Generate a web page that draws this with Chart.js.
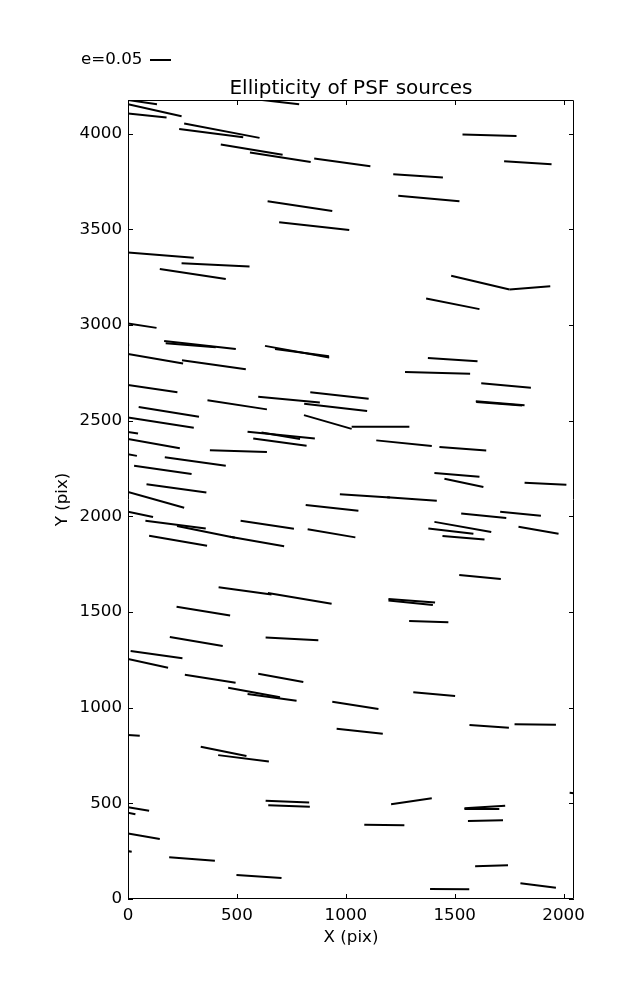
<!DOCTYPE html>
<html>
<head>
<title>Ellipticity of PSF sources</title>
<script src="https://cdn.jsdelivr.net/npm/chart.js"></script>
<style>
  html, body { margin: 0; padding: 0; background: #fff; }
</style>
</head>
<body>
<canvas id="whiskerChart" width="637" height="1000"></canvas>
<script>
    // whisker end points in pixel units of the detector
    var xStart = [0, 0, 0, 258, 235, 426, 560, 641, 694, 0,
                  246, 146, 546, 855, 1218, 1241, 1369, 1536, 1727, 1484,
                  1752, 0, 166, 173, -30, 0, 248, 629, 675, 0,
                  365, 598, 49, 0, -20, 0, 549, 613, 575, 376,
                  -20, 169, 28, 85, 0, 1377, 1272, 837, 809, 808,
                  1027, 1140, 973, 1190, 1430, 1622, 1597, 1599, 1407, 1453,
                  1821, 0, 80, 225, 468, 517, 97, 416, 642, 223,
                  192, 632, 12, 0, 261, 598, 460, 549, 816, 825,
                  1196, 1196, 1291, 1310, 1530, 1709, 1407, 1379, 1444, 1793,
                  1521, 0, 334, 414, 632, 644, 0, -20, 0, -20,
                  189, 498, 938, 958, 1208, 1085, 1568, 1775, 2028, 1545,
                  1545, 1561, 1594, 1387, 1802];
    var yStart = [4176, 4154, 4105, 4053, 4025, 3943, 3902, 3647, 3537, 3379,
                  3323, 3293, 4185, 3870, 3788, 3675, 3139, 3996, 3856, 3257,
                  3186, 3008, 2917, 2905, 2897, 2848, 2816, 2891, 2874, 2686,
                  2607, 2625, 2571, 2517, 2445, 2404, 2442, 2438, 2407, 2346,
                  2328, 2309, 2264, 2168, 2128, 2828, 2755, 2649, 2588, 2529,
                  2468, 2397, 2116, 2100, 2363, 2696, 2602, 2597, 2227, 2196,
                  2175, 2024, 1977, 1949, 1893, 1977, 1898, 1629, 1599, 1527,
                  1369, 1367, 1296, 1254, 1172, 1177, 1104, 1071, 2059, 1932,
                  1568, 1560, 1453, 1080, 2015, 2024, 1971, 1937, 1897, 1945,
                  1694, 857, 796, 752, 514, 490, 479, 456, 343, 254,
                  218, 125, 1031, 890, 495, 388, 909, 913, 555, 474,
                  470, 408, 171, 52, 82];
    var xEnd = [133, 246, 177, 604, 529, 710, 839, 938, 1016, 302,
                558, 449, 786, 1113, 1446, 1522, 1614, 1784, 1945, 1752,
                1939, 131, 495, 403, 5, 253, 541, 924, 923, 227,
                638, 881, 326, 302, 46, 238, 858, 790, 820, 638,
                41, 449, 292, 360, 258, 1605, 1571, 1105, 1098, 1027,
                1292, 1395, 1203, 1418, 1645, 1850, 1821, 1810, 1614, 1632,
                2013, 115, 357, 491, 717, 762, 363, 659, 935, 469,
                435, 874, 250, 184, 494, 805, 698, 774, 1058, 1044,
                1410, 1400, 1471, 1502, 1737, 1896, 1668, 1586, 1637, 1977,
                1712, 54, 544, 647, 832, 835, 97, 34, 146, 17,
                399, 705, 1150, 1170, 1395, 1269, 1749, 1965, 2070, 1732,
                1705, 1722, 1745, 1567, 1965];
    var yEnd = [4154, 4091, 4084, 3978, 3981, 3890, 3852, 3596, 3496, 3351,
                3306, 3241, 4154, 3830, 3771, 3647, 3083, 3988, 3840, 3186,
                3203, 2985, 2875, 2884, 2893, 2799, 2769, 2830, 2837, 2649,
                2559, 2595, 2520, 2463, 2433, 2356, 2407, 2404, 2369, 2336,
                2316, 2264, 2221, 2125, 2045, 2811, 2745, 2614, 2551, 2457,
                2468, 2367, 2099, 2081, 2344, 2672, 2581, 2579, 2207, 2153,
                2165, 1997, 1937, 1888, 1844, 1935, 1846, 1592, 1543, 1482,
                1322, 1353, 1258, 1209, 1130, 1134, 1055, 1036, 2029, 1890,
                1550, 1536, 1447, 1061, 1991, 2003, 1918, 1909, 1879, 1909,
                1672, 853, 747, 719, 505, 482, 461, 443, 314, 247,
                200, 110, 993, 864, 526, 385, 895, 911, 550, 487,
                470, 411, 176, 51, 59];

    var xTicks = [0, 500, 1000, 1500, 2000];
    var yTicks = [0, 500, 1000, 1500, 2000, 2500, 3000, 3500, 4000];
    var xMax = 2048;
    var yMax = 4176;

    var FONT = 'DejaVu Sans';

    var datasets = xStart.map(function (x0, i) {
        return {
            data: [{ x: x0, y: yStart[i] }, { x: xEnd[i], y: yEnd[i] }],
            showLine: true,
            borderColor: '#000',
            borderWidth: 2,
            pointRadius: 0,
            clip: 0
        };
    });

    // axes frame with inward ticks, title and the e=0.05 key
    var framePlugin = {
        id: 'frame',
        afterDraw: function (chart) {
            var ctx = chart.ctx;
            var a = chart.chartArea;
            var xs = chart.scales.x, ys = chart.scales.y;
            ctx.save();
            ctx.strokeStyle = '#000';
            ctx.lineWidth = 1;
            ctx.beginPath();
            ctx.rect(a.left + 0.5, a.top + 0.5, a.right - a.left - 1, a.bottom - a.top - 1);
            xTicks.forEach(function (v) {
                var px = Math.round(xs.getPixelForValue(v)) + 0.5;
                ctx.moveTo(px, a.bottom); ctx.lineTo(px, a.bottom - 5);
                ctx.moveTo(px, a.top); ctx.lineTo(px, a.top + 5);
            });
            yTicks.forEach(function (v) {
                var py = Math.round(ys.getPixelForValue(v)) + 0.5;
                ctx.moveTo(a.left, py); ctx.lineTo(a.left + 5, py);
                ctx.moveTo(a.right, py); ctx.lineTo(a.right - 5, py);
            });
            ctx.stroke();

            ctx.fillStyle = '#000';
            ctx.font = '20px "' + FONT + '"';
            ctx.textAlign = 'center';
            ctx.textBaseline = 'alphabetic';
            ctx.fillText('Ellipticity of PSF sources', (a.left + a.right) / 2, 94);

            ctx.font = '16.7px "' + FONT + '"';
            ctx.textAlign = 'left';
            ctx.textBaseline = 'middle';
            ctx.fillText('e=0.05', 81, 60);
            ctx.lineWidth = 2;
            ctx.beginPath();
            ctx.moveTo(150, 60);
            ctx.lineTo(171, 60);
            ctx.stroke();
            ctx.restore();
        }
    };

    var plainLabel = function (value) { return String(value); };

    var ctx = document.getElementById('whiskerChart').getContext('2d');
    var whiskerChart = new Chart(ctx, {
        type: 'scatter',
        data: { datasets: datasets },
        plugins: [framePlugin],
        options: {
            responsive: false,
            animation: false,
            layout: { padding: { top: 100, right: 63, left: 0, bottom: 0 } },
            plugins: {
                legend: { display: false },
                tooltip: { enabled: false }
            },
            scales: {
                x: {
                    type: 'linear',
                    min: 0,
                    max: xMax,
                    grid: { display: false, drawTicks: false },
                    border: { display: false },
                    afterBuildTicks: function (s) { s.ticks = xTicks.map(function (v) { return { value: v }; }); },
                    afterFit: function (s) { s.height = 101; },
                    ticks: {
                        autoSkip: false,
                        maxRotation: 0,
                        padding: 7,
                        color: '#000',
                        callback: plainLabel,
                        font: { family: FONT, size: 16.7 }
                    },
                    title: {
                        display: true,
                        text: 'X (pix)',
                        color: '#000',
                        font: { family: FONT, size: 16.7 },
                        padding: { top: 0, bottom: 52 }
                    }
                },
                y: {
                    type: 'linear',
                    min: 0,
                    max: yMax,
                    grid: { display: false, drawTicks: false },
                    border: { display: false },
                    afterBuildTicks: function (s) { s.ticks = yTicks.map(function (v) { return { value: v }; }); },
                    afterFit: function (s) { s.width = 128; },
                    ticks: {
                        autoSkip: false,
                        padding: 6,
                        color: '#000',
                        callback: plainLabel,
                        font: { family: FONT, size: 16.7 }
                    },
                    title: {
                        display: true,
                        text: 'Y (pix)',
                        color: '#000',
                        font: { family: FONT, size: 16.7 },
                        padding: { top: 53, bottom: 0 }
                    }
                }
            }
        }
    });
</script>
</body>
</html>
